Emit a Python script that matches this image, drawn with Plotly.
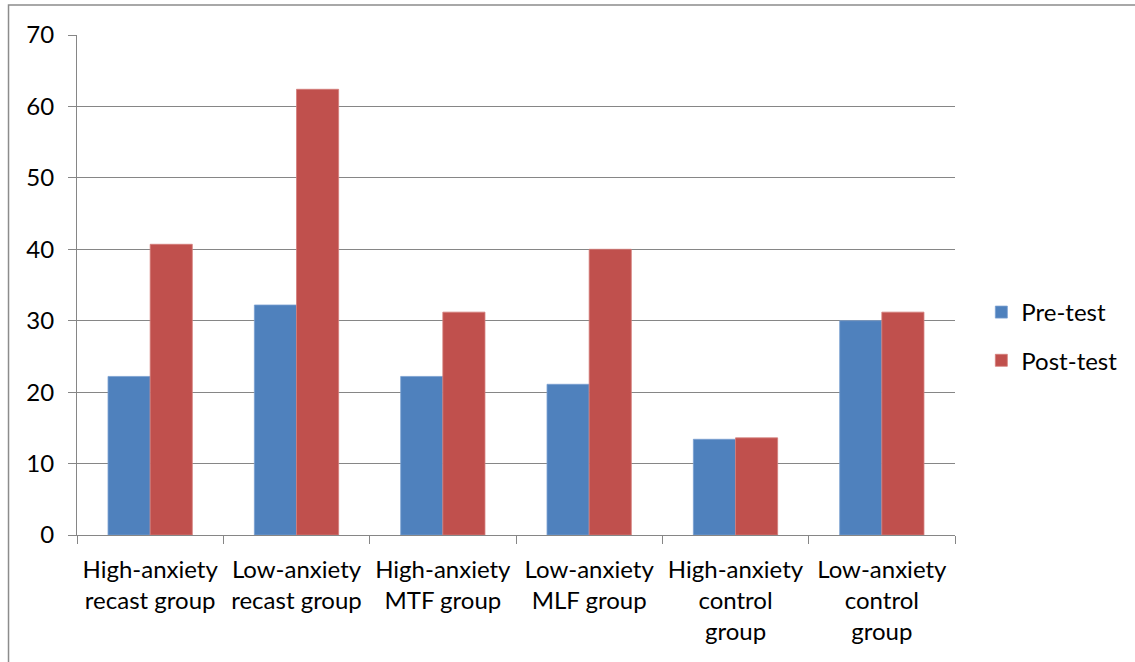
import plotly.graph_objects as go

categories = ["High-anxiety recast group", "Low-anxiety recast group", "High-anxiety MTF group",
              "Low-anxiety MLF group", "High-anxiety control group", "Low-anxiety control group"]
tick_labels = ["High-anxiety<br>recast group", "Low-anxiety<br>recast group", "High-anxiety<br>MTF group",
               "Low-anxiety<br>MLF group", "High-anxiety<br>control<br>group", "Low-anxiety<br>control<br>group"]
pre_test = [22.2, 32.2, 22.2, 21.1, 13.4, 30.0]
post_test = [40.7, 62.4, 31.2, 40.0, 13.6, 31.2]
y_ticks = [0, 10, 20, 30, 40, 50, 60, 70]

FONT = "Lato, Carlito, Calibri, sans-serif"

fig = go.Figure()
fig.add_trace(go.Bar(x=categories, y=pre_test, name="Pre-test", marker_color="#4F81BD",
                     marker_line=dict(color="#7A9FD0", width=0.8), legendgroup="a"))
fig.add_trace(go.Bar(x=categories, y=post_test, name="Post-test", marker_color="#C0504D",
                     marker_line=dict(color="#D47E7B", width=0.8), legendgroup="b"))

fig.update_layout(
    width=1135, height=662,
    margin=dict(l=77, r=180, t=35, b=127),
    paper_bgcolor="white", plot_bgcolor="white",
    font=dict(family=FONT, size=24, color="black"),
    barmode="group", bargap=0.424, bargroupgap=0,
    legend=dict(x=1.03, y=0.397, xanchor="left", yanchor="middle",
                font=dict(size=24), tracegroupgap=14, itemwidth=30, traceorder="grouped"),
    xaxis=dict(tickmode="array", tickvals=categories, ticktext=tick_labels,
               tickson="boundaries", ticks="outside", ticklen=8, tickcolor="#868686",
               showline=True, linecolor="#868686", linewidth=1, showgrid=False,
               tickfont=dict(size=24), ticklabelstandoff=13),
    yaxis=dict(range=[0, 70], tickvals=y_ticks, ticks="outside", ticklen=8, tickcolor="#868686",
               showline=True, linecolor="#868686", linewidth=1,
               showgrid=True, gridcolor="#868686", gridwidth=1, zeroline=False,
               tickfont=dict(size=24), ticklabelstandoff=9),
    shapes=[dict(type="path", xref="paper", yref="paper",
                 path="M 1.25,1.06 L -0.078,1.06 L -0.078,-0.3",
                 line=dict(color="#8C8C8C", width=1.5), fillcolor="rgba(0,0,0,0)", layer="below")],
)

fig.write_html("out.html", config={"displayModeBar": False},
               post_script="document.body.style.margin='0px';")
